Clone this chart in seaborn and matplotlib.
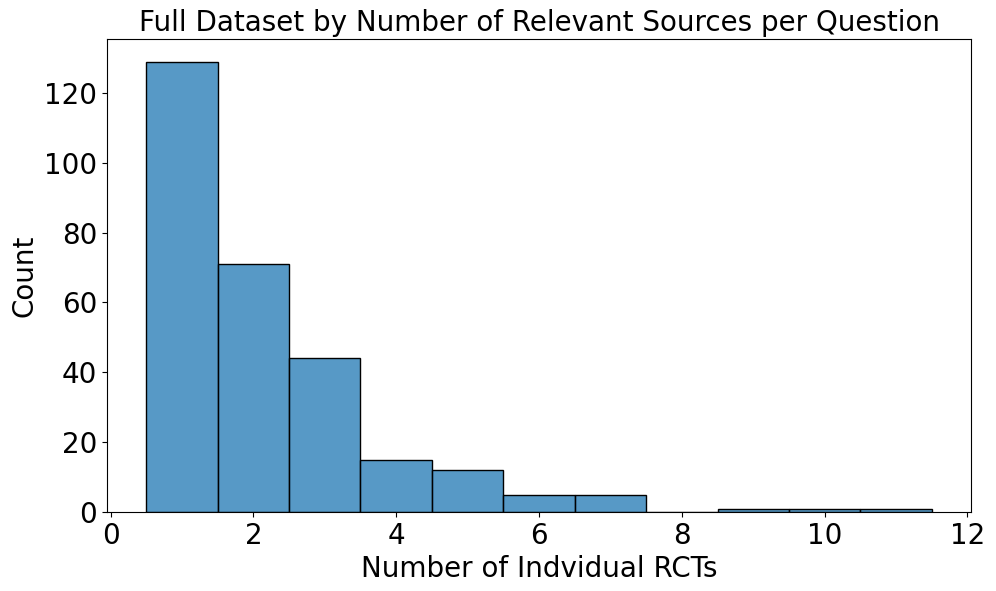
import matplotlib
matplotlib.use('Agg')
import matplotlib.pyplot as plt
import seaborn as sea

# number of relevant RCTs per question and how many questions have it
num_rcts = [1, 2, 3, 4, 5, 6, 7, 8, 9, 10, 11]
question_counts = [129, 71, 44, 15, 12, 5, 5, 0, 1, 1, 1]

fig, ax = plt.subplots(figsize=(9.96, 5.91), dpi=100)
sea.histplot(x=num_rcts, weights=question_counts, discrete=True, ax=ax)
ax.set_title('Full Dataset by Number of Relevant Sources per Question', fontsize=20)
ax.set_xlabel('Number of Indvidual RCTs', fontsize=20)
ax.set_ylabel('Count', fontsize=20)
ax.tick_params(labelsize=20)
fig.subplots_adjust(left=107/996, right=971/996, top=1 - 39/591, bottom=1 - 512/591)
plt.savefig('out.png')
